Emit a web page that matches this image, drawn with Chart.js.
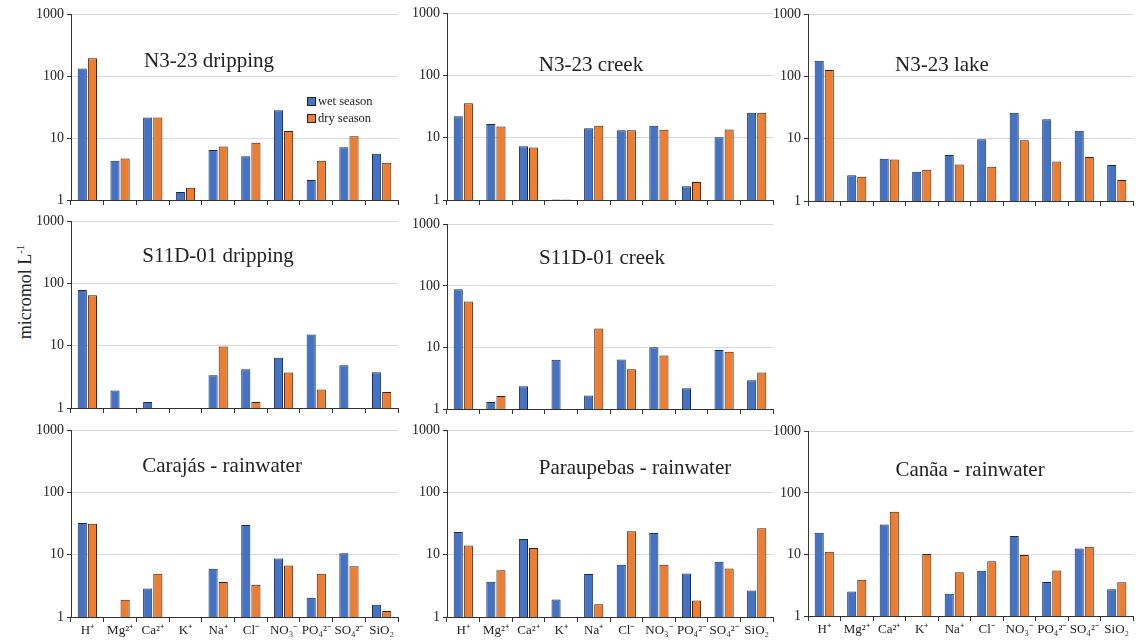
<!DOCTYPE html>
<html>
<head>
<meta charset="utf-8">
<script src="https://cdn.jsdelivr.net/npm/chart.js@4.4.0/dist/chart.umd.min.js"></script>
<style>
  body { margin: 0; background: #fff; width: 1139px; height: 641px; position: relative; overflow: hidden; }
  canvas { position: absolute; }
  #ytitle {
    position: absolute; left: 25px; top: 292px;
    transform: translate(-50%, -50%) rotate(-90deg);
    font-family: "Liberation Serif", serif; font-size: 18px; color: #222; white-space: nowrap;
  }
  #ytitle sup { font-size: 11px; }
</style>
</head>
<body>
<div id="ytitle">micromol L<sup>-1</sup></div>
<script>
const ions = ["H⁺", "Mg²⁺", "Ca²⁺", "K⁺", "Na⁺", "Cl⁻", "NO₃⁻", "PO₄²⁻", "SO₄²⁻", "SiO₂"];
const seasons = ["wet season", "dry season"];
const titles = ["N3-23 dripping", "N3-23 creek", "N3-23 lake", "S11D-01 dripping", "S11D-01 creek",
  "Carajás - rainwater", "Paraupebas - rainwater", "Canãa - rainwater"];

// values in micromol/L, order follows ions
const n3DripWet = [134, 4.3, 21.5, 1.35, 6.4, 5.1, 28.3, 2.1, 7.1, 5.6];
const n3DripDry = [196, 4.7, 21.5, 1.58, 7.3, 8.4, 13.0, 4.3, 10.7, 4.0];
const n3CreekWet = [22.3, 16.6, 7.3, 1.02, 14.2, 13.2, 15.6, 1.67, 10.2, 25.2];
const n3CreekDry = [36, 15.2, 7.0, 1.02, 15.6, 13.2, 13.5, 1.94, 13.6, 25.2];
const n3LakeWet = [179, 2.6, 4.8, 2.95, 5.5, 9.8, 26.3, 20.6, 13.5, 3.8];
const n3LakeDry = [128, 2.45, 4.65, 3.18, 3.87, 3.55, 9.5, 4.3, 5.1, 2.17];
const s11DripWet = [79, 1.92, 1.25, null, 3.37, 4.2, 6.45, 15.2, 4.87, 3.76];
const s11DripDry = [65, null, null, null, 9.7, 1.25, 3.72, 1.99, null, 1.8];
const s11CreekWet = [88.5, 1.3, 2.34, 6.34, 1.66, 6.4, 10.1, 2.17, 9.06, 2.92];
const s11CreekDry = [56, 1.62, null, null, 20.4, 4.44, 7.4, null, 8.5, 3.93];
const carajasWet = [32.4, null, 2.88, null, 5.94, 30.1, 8.7, 2.04, 10.6, 1.58];
const carajasDry = [31.6, 1.9, 4.94, null, 3.64, 3.3, 6.7, 4.94, 6.56, 1.25];
const parauWet = [23.3, 3.68, 18, 1.92, 4.89, 6.89, 22.4, 5.0, 7.7, 2.67];
const parauDry = [14.1, 5.66, 12.9, null, 1.6, 23.9, 6.89, 1.85, 6.0, 26.7];
const canaaWet = [22.6, 2.49, 30.8, null, 2.29, 5.42, 20, 3.56, 12.5, 2.72];
const canaaDry = [11.1, 3.88, 49.3, 10.2, 5.16, 7.75, 9.8, 5.48, 13.3, 3.52];

const yTicks = [1, 10, 100, 1000];

const WET = "#4472C4";
const DRY = "#ED7D31";
const AXIS = "#333";
const GRID = "#d9d9d9";
const FONT = "Liberation Serif";

// plot boxes on the page: axis x, top, right, bottom, title centre
const panels = [
  { wet: n3DripWet, dry: n3DripDry, box: [71, 13, 398, 200], tc: [209, 61], legend: true },
  { wet: n3CreekWet, dry: n3CreekDry, box: [447, 12, 773, 200], tc: [591, 65] },
  { wet: n3LakeWet, dry: n3LakeDry, box: [808, 13, 1133, 201], tc: [942, 65] },
  { wet: s11DripWet, dry: s11DripDry, box: [71, 220, 398, 408], tc: [218, 256] },
  { wet: s11CreekWet, dry: s11CreekDry, box: [447, 223, 773, 409], tc: [602, 258] },
  { wet: carajasWet, dry: carajasDry, box: [71, 429, 398, 617], tc: [222, 466], labels: true },
  { wet: parauWet, dry: parauDry, box: [447, 429, 773, 617], tc: [635, 468], labels: true },
  { wet: canaaWet, dry: canaaDry, box: [808, 430, 1133, 616], tc: [970, 470], labels: true },
];

const Y_W = 50, PAD_T = 10, PAD_R = 4;

const panelText = {
  id: "panelText",
  afterDraw(chart, args, opts) {
    const c = chart.ctx;
    c.save();
    c.fillStyle = "#222";
    c.font = "21px " + FONT;
    c.textAlign = "center";
    c.textBaseline = "middle";
    c.fillText(opts.title, opts.tx, opts.ty);
    if (opts.legend) {
      c.font = "12.5px " + FONT;
      c.textAlign = "left";
      chart.data.datasets.forEach((ds, i) => {
        const x = opts.lx, y = opts.ly + i * 17;
        c.fillStyle = ds.backgroundColor;
        c.fillRect(x, y, 9, 9);
        c.strokeStyle = "#222";
        c.lineWidth = 1;
        c.strokeRect(x + 0.5, y + 0.5, 8, 8);
        c.fillStyle = "#222";
        c.fillText(ds.label, x + 11, y + 5);
      });
    }
    c.restore();
  }
};

panels.forEach((p, k) => {
  const [ax, top, right, bottom] = p.box;
  const xh = p.labels ? 24 : 12;
  const left = ax - Y_W, ctop = top - PAD_T;
  const cv = document.createElement("canvas");
  cv.width = Y_W + (right - ax) + PAD_R;
  cv.height = PAD_T + (bottom - top) + xh;
  cv.style.left = left + "px";
  cv.style.top = ctop + "px";
  document.body.appendChild(cv);

  new Chart(cv, {
    type: "bar",
    data: {
      labels: ions,
      datasets: [
        { label: seasons[0], data: p.wet, backgroundColor: WET, borderColor: "#1c2a44", borderWidth: 1 },
        { label: seasons[1], data: p.dry, backgroundColor: DRY, borderColor: "#3a2010", borderWidth: 1 },
      ],
    },
    options: {
      responsive: false,
      animation: false,
      layout: { padding: { top: PAD_T, right: PAD_R, left: 0, bottom: 0 } },
      datasets: { bar: { categoryPercentage: 0.62, barPercentage: 0.9 } },
      plugins: {
        legend: { display: false },
        tooltip: { enabled: false },
        panelText: {
          title: titles[k],
          tx: p.tc[0] - left, ty: p.tc[1] - ctop,
          legend: !!p.legend, lx: 307 - left, ly: 97 - ctop,
        },
      },
      scales: {
        x: {
          afterFit: (s) => { s.height = xh; },
          grid: { drawOnChartArea: false, tickLength: 5, tickColor: AXIS, offset: true },
          border: { color: AXIS, width: 1 },
          ticks: {
            autoSkip: false, maxRotation: 0, padding: 1,
            color: "#222", font: { family: FONT, size: 13 },
            callback: (v, i) => (p.labels ? ions[i] : ""),
          },
        },
        y: {
          type: "logarithmic",
          min: 1, max: 1000,
          afterFit: (s) => { s.width = Y_W; },
          afterBuildTicks: (s) => { s.ticks = yTicks.map((v) => ({ value: v })); },
          grid: { color: GRID, tickLength: 4, tickColor: AXIS },
          border: { color: AXIS, width: 1 },
          ticks: {
            color: "#222", padding: 3,
            font: { family: FONT, size: 14 },
            callback: (v) => String(v),
          },
        },
      },
    },
    plugins: [panelText],
  });
});
</script>
</body>
</html>
